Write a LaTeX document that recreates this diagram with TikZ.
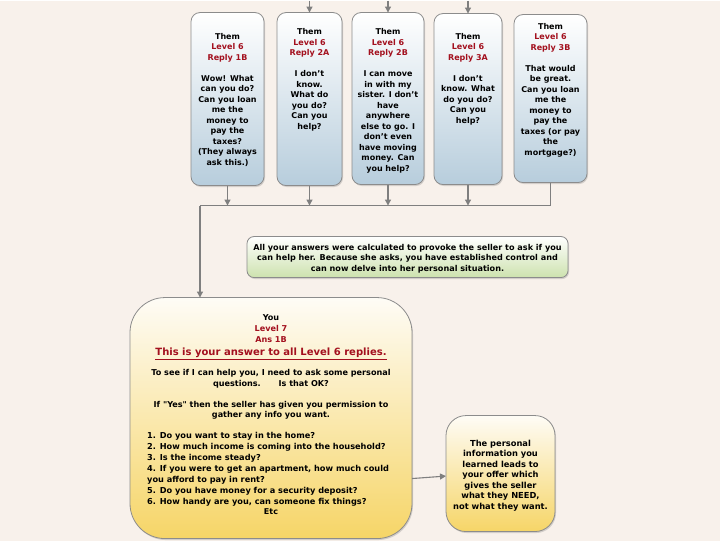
\documentclass[tikz,border=0pt]{standalone}
\usepackage{fontspec}
\setmainfont{DejaVu Sans}
\usetikzlibrary{positioning,arrows.meta,shadows}
\definecolor{pagebg}{HTML}{F8F1EB}
\definecolor{boxline}{HTML}{8C8C8C}
\definecolor{replyblue}{HTML}{B7CDDC}
\definecolor{notegreen}{HTML}{CDE2AE}
\definecolor{answeryellow}{HTML}{F6D567}
\definecolor{answertop}{HTML}{FEFCF6}
\definecolor{levelred}{HTML}{A3101E}
\definecolor{flowgray}{HTML}{7F7F7F}
\newcommand{\redline}[1]{\textcolor{levelred}{#1}}

\begin{document}
\begin{tikzpicture}[x=1pt,y=-1pt,
    box/.style={draw=boxline, line width=0.8pt, inner sep=0pt, outer sep=0pt,
      drop shadow={shadow xshift=1pt, shadow yshift=-1.5pt, opacity=0.3}},
    reply/.style={box, rounded corners=9pt, top color=white, bottom color=replyblue,
      minimum height=#1},
    reply/.default=173pt,
    replytext/.style={align=center, inner sep=0pt, font=\fontsize{8}{10.5}\selectfont\bfseries},
    note/.style={box, rounded corners=7pt, top color=white, bottom color=notegreen},
    answer/.style={box, top color=answertop, bottom color=answeryellow},
    flow/.style={draw=flowgray, line width=1.1pt, -{Triangle[length=6pt,width=6pt]}},
    busline/.style={draw=flowgray, line width=0.7pt}]
  \fill[pagebg] (0,0) rectangle (720,540);
  \coordinate (pagetop) at (0,0);

  % level 6 replies
  \node[reply, minimum width=73pt] (b1) at (227.5,98.5) {};
  \node[reply, minimum width=65pt] (b2) at (309.5,98.5) {};
  \node[reply=172pt, minimum width=72pt] (b3) at (388,98) {};
  \node[reply=171pt, minimum width=68pt] (b4) at (468,98.5) {};
  \node[reply=168pt, minimum width=73pt] (b5) at (550.5,98) {};

  \node[replytext, below=20.5pt of b1.north] (t1) {Them\\\redline{Level 6}\\\redline{Reply 1B}\\[10.5pt]
    Wow! What\\can you do?\\Can you loan\\me the\\money to\\pay the\\taxes?\\(They always\\ask this.)};
  \node[replytext, below=16pt of b2.north] (t2) {Them\\\redline{Level 6}\\\redline{Reply 2A}\\[10.5pt]
    I don't\\know.\\What do\\you do?\\Can you\\help?};
  \node[replytext, below=16pt of b3.north] (t3) {Them\\\redline{Level 6}\\\redline{Reply 2B}\\[10.5pt]
    I can move\\in with my\\sister. I don't\\have\\anywhere\\else to go. I\\don't even\\have moving\\money. Can\\you help?};
  \node[replytext, below=19.5pt of b4.north] (t4) {Them\\\redline{Level 6}\\\redline{Reply 3A}\\[10.5pt]
    I don't\\know. What\\do you do?\\Can you\\help?};
  \node[replytext, below=8.5pt of b5.north] (t5) {Them\\\redline{Level 6}\\\redline{Reply 3B}\\[10.5pt]
    That would\\be great.\\Can you loan\\me the\\money to\\pay the\\taxes (or pay\\the\\mortgage?)};

  \foreach \b in {b2,b3,b4}
    \draw[flow] (\b.north |- pagetop) -- (\b.north);

  % collect all replies
  \coordinate (bus) at (200,205);
  \foreach \b in {b1,b2,b3,b4}
    \draw[flow] (\b.south) -- (\b.south |- bus);
  \draw[busline] (b5.south) |- (bus);

  \node[note, minimum width=321pt, minimum height=41pt] (why) at (407.5,256.5) {};
  \node[replytext, font=\fontsize{8.1}{10.6}\selectfont\bfseries] (whytext) at ([yshift=-1.5pt]why)
    {All your answers were calculated to provoke the seller to ask if you\\
     can help her. Because she asks, you have established control and\\
     can now delve into her personal situation.};

  % level 7 answer
  \node[answer, rounded corners=35pt, minimum width=282pt, minimum height=241pt] (big) at (271,417.5) {};
  \draw[flow] (bus) -- (bus |- big.north);
  \node[replytext, font=\fontsize{8.1}{10.9}\selectfont\bfseries, below=17pt of big.north] (anstext)
    {You\\\redline{Level 7}\\\redline{Ans 1B}\\[2pt]
    {\fontsize{10}{13}\selectfont\redline{\underline{This is your answer to all Level 6 replies.}}}\\[9pt]
    To see if I can help you, I need to ask some personal\\questions.\hspace{2.2em}Is that OK?\\[10pt]
    If \textquotedbl Yes\textquotedbl{} then the seller has given you permission to\\gather any info you want.};
  \node[replytext, font=\fontsize{8.2}{11}\selectfont\bfseries, align=left, anchor=north west] (asks) at (147,432)
    {1. Do you want to stay in the home?\\
     2. How much income is coming into the household?\\
     3. Is the income steady?\\
     4. If you were to get an apartment, how much could\\
     you afford to pay in rent?\\
     5. Do you have money for a security deposit?\\
     6. How handy are you, can someone fix things?};
  \node[replytext, below=2pt of asks.south -| anstext] (etc) {Etc};

  \node[answer, rounded corners=20pt, minimum width=109pt, minimum height=116pt] (need) at (500.5,473) {};
  \node[replytext, font=\fontsize{8.3}{10.5}\selectfont\bfseries] (needtext) at ([yshift=-2pt]need)
    {The personal\\information you\\learned leads to\\your offer which\\gives the seller\\what they NEED,\\not what they want.};
  \draw[flow] (big.east |- 0,478) -- ([yshift=-2.5pt]need.west);
\end{tikzpicture}
\end{document}
